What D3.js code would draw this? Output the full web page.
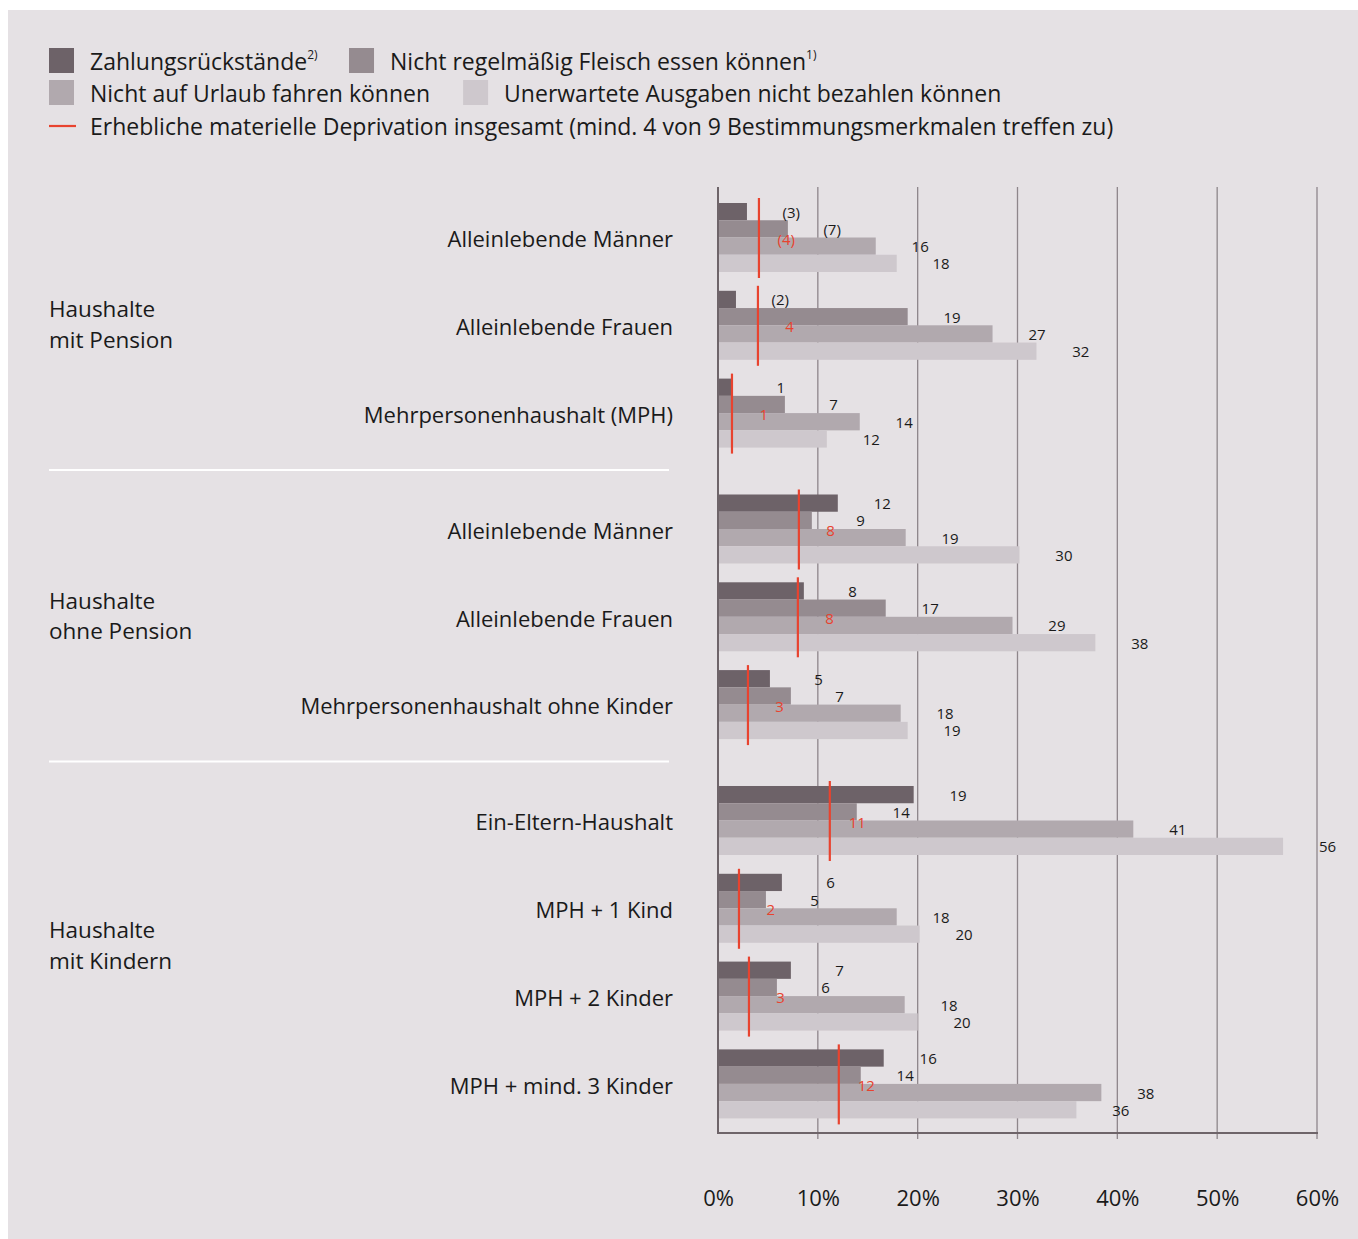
<!DOCTYPE html>
<html><head><meta charset="utf-8">
<script src="https://cdn.jsdelivr.net/npm/d3@7"></script>
<style>
html,body{margin:0;padding:0;background:#fff;}
svg{display:block;font-family:"Open Sans","Noto Sans",sans-serif;}
</style></head>
<body>
<svg id="chart" width="1358" height="1239"></svg>
<script>
// ---------- DATA ----------
const categories = ["Alleinlebende Männer","Alleinlebende Frauen","Mehrpersonenhaushalt (MPH)",
  "Alleinlebende Männer","Alleinlebende Frauen","Mehrpersonenhaushalt ohne Kinder",
  "Ein-Eltern-Haushalt","MPH + 1 Kind","MPH + 2 Kinder","MPH + mind. 3 Kinder"];
const sectionOf = [0,0,0,1,1,1,2,2,2,2];
const sectionNames = [["Haushalte","mit Pension"],["Haushalte","ohne Pension"],["Haushalte","mit Kindern"]];
const seriesNames = ["Zahlungsrückstände","Nicht regelmäßig Fleisch essen können","Nicht auf Urlaub fahren können","Unerwartete Ausgaben nicht bezahlen können"];
const seriesSup = ["2)","1)","",""];
const deprivationName = "Erhebliche materielle Deprivation insgesamt (mind. 4 von 9 Bestimmungsmerkmalen treffen zu)";
const zahlung    = [2.9, 1.8, 1.4, 12.0, 8.6, 5.2, 19.6, 6.4, 7.3, 16.6];
const fleisch    = [7.0, 19.0, 6.7, 9.4, 16.8, 7.3, 13.9, 4.8, 5.9, 14.3];
const urlaub     = [15.8, 27.5, 14.2, 18.8, 29.5, 18.3, 41.6, 17.9, 18.7, 38.4];
const unerwartet = [17.9, 31.9, 10.9, 30.2, 37.8, 19.0, 56.6, 20.2, 20.0, 35.9];
const deprivation = [4.1, 4.0, 1.4, 8.1, 8.0, 3.0, 11.2, 2.1, 3.1, 12.1];
const zahlungLabels    = ["(3)","(2)","1","12","8","5","19","6","7","16"];
const fleischLabels    = ["(7)","19","7","9","17","7","14","5","6","14"];
const urlaubLabels     = ["16","27","14","19","29","18","41","18","18","38"];
const unerwartetLabels = ["18","32","12","30","38","19","56","20","20","36"];
const deprivationLabels = ["(4)","4","1","8","8","3","11","2","3","12"];
const xTicks = [0,10,20,30,40,50,60];
const xTickLabels = ["0%","10%","20%","30%","40%","50%","60%"];

// ---------- STYLE ----------
const colors = ["#6d6268","#958b90","#b1a9ae","#cec8cd"];
const red = "#e8432f";
const bg = "#e5e1e4";
const seriesValues = [zahlung, fleisch, urlaub, unerwartet];
const seriesLabels = [zahlungLabels, fleischLabels, urlaubLabels, unerwartetLabels];

const svg = d3.select("#chart");
svg.append("rect").attr("x",8).attr("y",10).attr("width",1350).attr("height",1229).attr("fill",bg);

const x = d3.scaleLinear().domain([0,60]).range([718,1317]);
const slot = d3.scaleLinear().domain([0,1]).range([203,290.8]);
const groupTop = i => slot(i + sectionOf[i]*0.32);
const inner = d3.scaleBand().domain(d3.range(4)).range([0,69]).padding(0);
const plotTop = 187, plotBottom = 1133;

// gridlines
const g = svg.append("g");
g.selectAll("line.grid").data(xTicks.slice(1)).join("line")
  .attr("x1",d=>x(d)).attr("x2",d=>x(d))
  .attr("y1",plotTop).attr("y2",plotBottom+6)
  .attr("stroke","#8e868b").attr("stroke-width",1.3);
// axis
const axis = d3.axisBottom(x).tickValues(xTicks).tickSize(0).tickFormat((d,i)=>xTickLabels[i]);
const ax = svg.append("g").attr("transform",`translate(0,${plotBottom})`).call(axis);
ax.select(".domain").remove();
ax.selectAll("text").attr("y",73).attr("dy",0).attr("fill","#1a1a1a")
  .style("font-size","22px").style("font-family","'Open Sans',sans-serif");

// bars
for (let s=0;s<4;s++){
  svg.append("g").selectAll("rect").data(categories).join("rect")
    .attr("x",x(0)).attr("y",(d,i)=>groupTop(i)+inner(s))
    .attr("width",(d,i)=>x(seriesValues[s][i])-x(0))
    .attr("height",inner.bandwidth())
    .attr("fill",colors[s]);
}
// axis lines on top
svg.append("line").attr("x1",x(0)).attr("x2",x(0)).attr("y1",plotTop).attr("y2",plotBottom+1)
  .attr("stroke","#6e6469").attr("stroke-width",2);
svg.append("line").attr("x1",x(0)-1).attr("x2",x(60)+1).attr("y1",plotBottom).attr("y2",plotBottom)
  .attr("stroke","#6e6469").attr("stroke-width",2);

// value labels
for (let s=0;s<4;s++){
  svg.append("g").selectAll("text").data(categories).join("text")
    .attr("x",(d,i)=>x(seriesValues[s][i])+53)
    .attr("y",(d,i)=>groupTop(i)+inner(s)+inner.bandwidth()/2+2)
    .attr("text-anchor","end").attr("dominant-baseline","middle")
    .style("font-size","15px").attr("fill","#1a1a1a")
    .text((d,i)=>seriesLabels[s][i]);
}
// deprivation lines
svg.append("g").selectAll("line").data(categories).join("line")
  .attr("x1",(d,i)=>x(deprivation[i])).attr("x2",(d,i)=>x(deprivation[i]))
  .attr("y1",(d,i)=>groupTop(i)-5).attr("y2",(d,i)=>groupTop(i)+75)
  .attr("stroke",red).attr("stroke-width",2.2);
svg.append("g").selectAll("text").data(categories).join("text")
  .attr("x",(d,i)=>x(deprivation[i])+36)
  .attr("y",(d,i)=>groupTop(i)+37.5)
  .attr("text-anchor","end").attr("dominant-baseline","middle")
  .style("font-size","15px").attr("fill",red)
  .text((d,i)=>deprivationLabels[i]);

// category labels
svg.append("g").selectAll("text").data(categories).join("text")
  .attr("x",673).attr("y",(d,i)=>groupTop(i)+38.5)
  .attr("text-anchor","end").attr("dominant-baseline","middle")
  .style("font-size","22px").attr("fill","#1a1a1a").text(d=>d);

// section labels
sectionNames.forEach((lines,k)=>{
  const idx = sectionOf.map((s,i)=>s===k?i:-1).filter(i=>i>=0);
  const top = groupTop(idx[0]), bot = groupTop(idx[idx.length-1])+69;
  const cy = (top+bot)/2 - (k===2?6:0);
  const t = svg.append("text").attr("x",49).style("font-size","22.5px").attr("fill","#1a1a1a");
  lines.forEach((l,j)=>t.append("tspan").attr("x",49).attr("y",cy-14+j*30.5)
    .attr("dominant-baseline","middle").text(l));
});
// separators
[3,6].forEach(i=>{
  const yy = (groupTop(i-1)+69+groupTop(i))/2 - 1;
  svg.append("line").attr("x1",49).attr("x2",669).attr("y1",yy).attr("y2",yy)
    .attr("stroke","#ffffff").attr("stroke-width",2);
});

// legend
const leg = svg.append("g");
function legendItem(xPos, yc, s){
  leg.append("rect").attr("x",xPos).attr("y",yc-13).attr("width",25).attr("height",25).attr("fill",colors[s]);
  const t = leg.append("text").attr("x",xPos+41).attr("y",yc+3).attr("dominant-baseline","middle")
    .style("font-size","23px").attr("fill","#1a1a1a").text(seriesNames[s]);
  if (seriesSup[s]) t.append("tspan").attr("dy",-8).style("font-size","12px").text(seriesSup[s]);
  return t.node().getBBox().x + t.node().getBBox().width;
}
let e1 = legendItem(49,61,0); legendItem(e1+31,61,1);
let e2 = legendItem(49,93,2); legendItem(e2+33,93,3);
leg.append("line").attr("x1",49).attr("x2",76).attr("y1",126).attr("y2",126).attr("stroke",red).attr("stroke-width",2.2);
leg.append("text").attr("x",90).attr("y",129).attr("dominant-baseline","middle")
  .style("font-size","23px").attr("fill","#1a1a1a").text(deprivationName);
</script>
</body></html>
